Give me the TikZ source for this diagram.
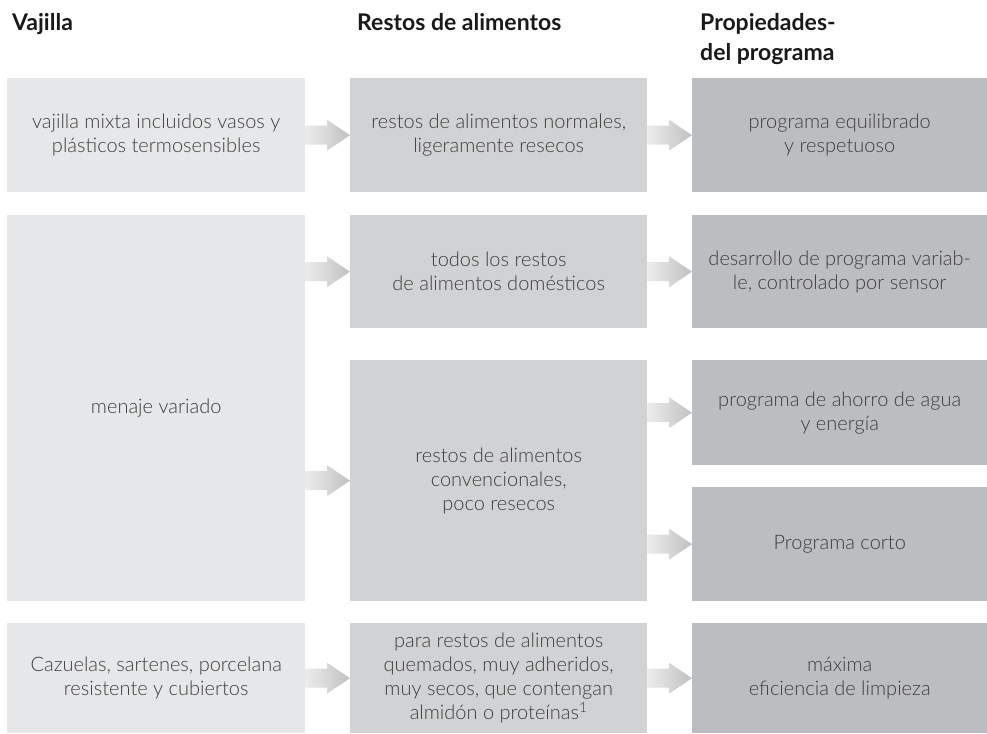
\documentclass[tikz,border=0pt]{standalone}
\usepackage{fontspec}
\setmainfont{Lato}[UprightFont=* Light, BoldFont=* Bold]
\usepackage{xcolor}
\usetikzlibrary{positioning,calc}

\definecolor{vajfill}{RGB}{230,231,232}
\definecolor{restfill}{RGB}{209,210,212}
\definecolor{propfill}{RGB}{188,189,192}
\definecolor{bodytext}{RGB}{62,62,62}
\definecolor{arrowlight}{RGB}{236,236,236}
\definecolor{arrowdark}{RGB}{192,192,193}

% fat shaded arrow between two points on the same height
\newcommand{\grayarrow}[2]{%
  \shade[left color=arrowlight, right color=arrowdark]
    ($(#1)+(0,-9.5)$) -- ($(#2)+(-23,-9.5)$) -- ($(#2)+(-23,-15.5)$) -- (#2)
    -- ($(#2)+(-23,15.5)$) -- ($(#2)+(-23,9.5)$) -- ($(#1)+(0,9.5)$) -- cycle;}

\begin{document}
\begin{tikzpicture}[x=1pt, y=-1pt,
    hdr/.style={anchor=base west, inner sep=0, align=left, font=\fontsize{23}{30}\selectfont\bfseries, text=black!90},
    cell/.style={anchor=north west, inner sep=0, align=center, text=bodytext, font=\fontsize{20}{24}\selectfont},
    vajbox/.style={cell, fill=vajfill, minimum width=298},
    restbox/.style={cell, fill=restfill, minimum width=297},
    propbox/.style={cell, fill=propfill, minimum width=295}]
  \useasboundingbox (0,0) rectangle (987,733);
  % Column headers
  \node[hdr] (hvaj) at (12,31) {Vajilla};
  \node[hdr] (hrest) at (357,31) {Restos de alimentos};
  \node[hdr] (hprop) at (700,61) {Propiedades-\\del programa};
  % Vajilla column
  \node[vajbox, minimum height=114] (vmix) at (7,78) {vajilla mixta incluidos vasos y\\plásticos termosensibles};
  \node[vajbox, minimum height=386] (vmen) at (7,215) {menaje variado};
  \node[vajbox, minimum height=110] (vcaz) at (7,623) {Cazuelas, sartenes, porcelana\\resistente y cubiertos};
  % Restos column
  \node[restbox, minimum height=114] (rnorm) at (350,78) {restos de alimentos normales,\\ligeramente resecos};
  \node[restbox, minimum height=113] (rdom) at (350,215) {todos los restos\\de alimentos domésticos};
  \node[restbox, minimum height=241] (rconv) at (350,360) {restos de alimentos\\convencionales,\\poco resecos};
  \node[restbox, minimum height=110] (rquem) at (350,623) {para restos de alimentos\\quemados, muy adheridos,\\muy secos, que contengan\\almidón o proteínas\textsuperscript{1}};
  % Propiedades column
  \node[propbox, minimum height=114] (pequi) at (692,78) {programa equilibrado\\y respetuoso};
  \node[propbox, minimum height=113] (psens) at (692,215) {desarrollo de programa variab-\\le, controlado por sensor};
  \node[propbox, minimum height=105] (pahor) at (692,360) {programa de ahorro de agua\\y energía};
  \node[propbox, minimum height=114] (pcorto) at (692,487) {Programa corto};
  \node[propbox, minimum height=110] (pmax) at (692,623) {máxima\\eficiencia de limpieza};
  % Arrows
  \coordinate (men1) at (vmen.east |- rdom.west);
  \coordinate (men2) at (vmen.east |- rconv.west);
  \grayarrow{vmix.east}{rnorm.west}
  \grayarrow{men1}{rdom.west}
  \grayarrow{men2}{rconv.west}
  \grayarrow{vcaz.east}{rquem.west}
  \grayarrow{rnorm.east}{pequi.west}
  \grayarrow{rdom.east}{psens.west}
  \coordinate (conv1) at (rconv.east |- pahor.west);
  \coordinate (conv2) at (rconv.east |- pcorto.west);
  \grayarrow{conv1}{pahor.west}
  \grayarrow{conv2}{pcorto.west}
  \grayarrow{rquem.east}{pmax.west}
\end{tikzpicture}
\end{document}
